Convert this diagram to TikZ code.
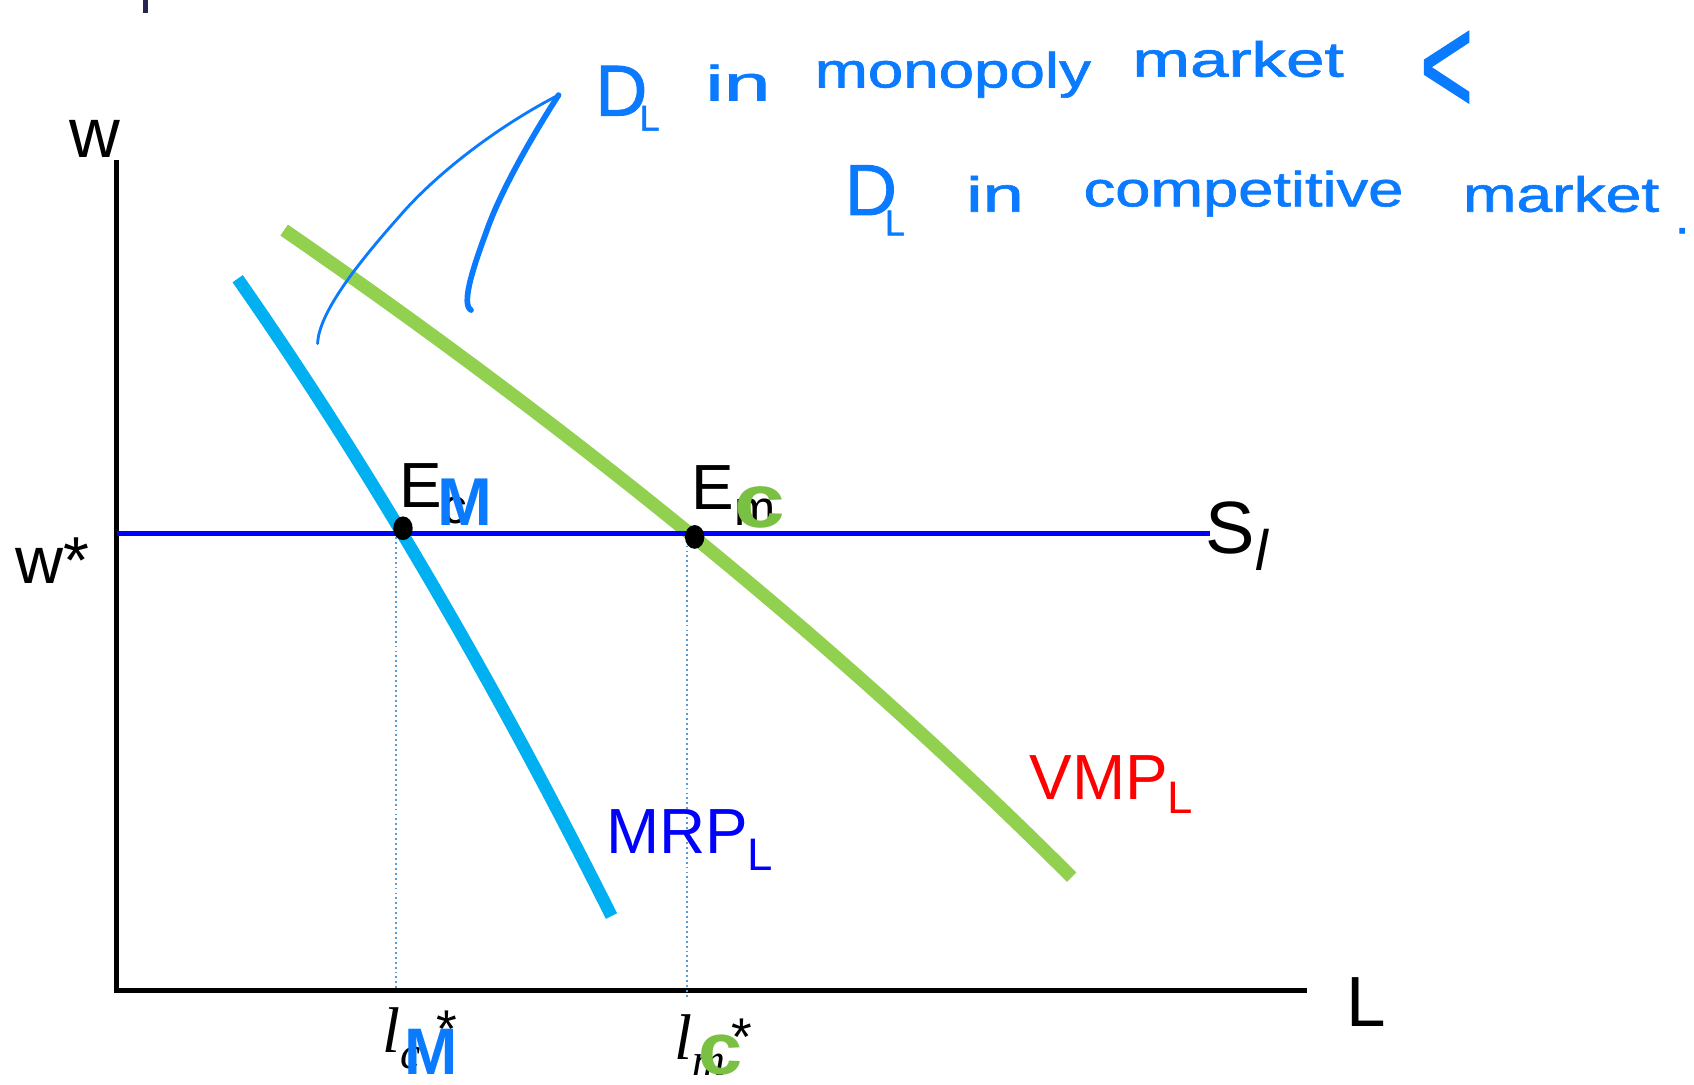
\documentclass[tikz,border=0pt]{standalone}
\usepackage{fontspec}
\setmainfont{Liberation Sans}
\newfontfamily\serifface{Liberation Serif}
\newfontfamily\hwfont{Liberation Sans}[FakeBold=1.2]
\usetikzlibrary{shapes.geometric}
\definecolor{mrpc}{HTML}{00B0F0}
\definecolor{vmpc}{HTML}{92D050}
\definecolor{hwblue}{HTML}{0A7AFF}
\definecolor{hwgreen}{HTML}{7AC143}
\definecolor{dotc}{HTML}{5B9BD5}
\definecolor{navyc}{HTML}{262651}
\newcommand\myfs[1]{\fontsize{#1}{#1}\selectfont}
\begin{document}
\begin{tikzpicture}[x=0.01cm,y=-0.01cm,
  every node/.style={inner sep=0pt,outer sep=0pt},
  axisline/.style={line width=1.3pt,black},
  mrpline/.style={line width=3.3pt,mrpc},
  vmpline/.style={line width=3.5pt,vmpc},
  supplyline/.style={line width=1.15pt,blue},
  guide/.style={line width=0.45pt,dotc,dash pattern=on 0.5pt off 0.8pt},
  eqdot/.style={ellipse,fill=black,minimum width=1.8mm,minimum height=2.2mm},
  axlab/.style={anchor=base west,font=\myfs{18.5}},
  curvelab/.style={anchor=base west,font=\myfs{16.8}},
  hw/.style={anchor=base,text=hwblue,font=\hwfont\myfs{13}},
  hwstroke/.style={draw=hwblue,line cap=round,line join=round},
  overM/.style={text=hwblue,font=\myfs{16.5}\bfseries},
  overc/.style={text=hwgreen,font=\myfs{20}\bfseries},
]
\useasboundingbox (0,0) rectangle (1568,1004);
\fill[navyc] (132,0) rectangle (137,12);

% axes
\coordinate (O) at (108,917);
\coordinate (Ytop) at (108,148);
\coordinate (Xend) at (1210,917);
\draw[axisline] (Ytop) -- (O) -- (Xend);

% curves
\coordinate (mA) at (220,258);
\coordinate (mB) at (566,848);
\draw[mrpline] (mA) .. controls (338.7,428) and (454.3,624.7) .. (mB);
\coordinate (vA) at (263,213);
\coordinate (vB) at (992,812);
\draw[vmpline] (vA) .. controls (542.3,405.7) and (785.3,605.3) .. (vB);

% supply
\coordinate (Wst) at (108,494);
\coordinate (Send) at (1120,494);
\draw[supplyline] (Wst) -- (Send);

% guides
\coordinate (g1t) at (366.5,497);
\coordinate (g1b) at (366.5,917);
\coordinate (g2t) at (636,505);
\coordinate (g2b) at (636,924);
\draw[guide] (g1t) -- (g1b);
\draw[guide] (g2t) -- (g2b);

% equilibrium dots
\node[eqdot] (Em) at (373,489) {};
\node[eqdot] (Ec) at (643,497) {};

% axis labels
\node[axlab] (wlab) at (64,146) {w};
\node[axlab,font=\myfs{17.5}] (wstar) at (14,540) {w*};
\node[axlab,font=\myfs{18.7}] (Llab) at (1246,950) {L};
\node[axlab,font=\myfs{19.5}] (Slab) at (1116,512) {S\raisebox{-0.23em}{\myfs{15}\itshape l}};

% curve labels
\node[curvelab,text=blue] (mrplab) at (561,790) {MRP\raisebox{-0.26em}{\myfs{12}L}};
\node[curvelab,text=red] (vmplab) at (953,740) {VMP\raisebox{-0.22em}{\myfs{12}L}};

% E labels
\node[curvelab] (E1) at (370,470) {E\raisebox{-0.24em}{\myfs{13}c}};
\node[curvelab] (E2) at (640,472) {E\raisebox{-0.24em}{\myfs{13}m}};

% l labels
\node[anchor=base west,font=\serifface\myfs{17}\itshape] (l1) at (354,974) {l\raisebox{-0.25em}{\myfs{12}c}};
\node[anchor=base west,font=\myfs{14}] (st1) at (404,970) {*};
\node[anchor=base west,font=\serifface\myfs{17}\itshape] (l2) at (624,981) {l\raisebox{-0.25em}{\myfs{12}m}};
\node[anchor=base west,font=\myfs{14}] (st2) at (677,977) {*};

% handwritten overlays
\node[overM] (M1) at (430,465) {\scalebox{1.05}[1.08]{M}};
\node[overc] (c1) at (703,470) {\scalebox{1.2}[1]{c}};
\node[overM] (M2) at (399,974) {\scalebox{1.02}[1.05]{M}};
\node[overc,font=\myfs{19}\bfseries] (c2) at (667,977) {\scalebox{1.1}[1.02]{c}};

% handwritten hooks
\coordinate (tip) at (517,88);
\coordinate (hk1) at (294,318);
\coordinate (hk2) at (436,287);
\draw[hwstroke,line width=0.75pt] (tip) .. controls (455,120) and (400,165) .. (370,200) .. controls (330,245) and (295,290) .. (hk1);
\draw[hwstroke,line width=1.5pt] (tip) .. controls (490,130) and (462,180) .. (450,215) .. controls (437,250) and (427,282) .. (hk2);

% handwritten text line 1
\node[hw,anchor=base west,font=\hwfont\myfs{19}] (D1) at (551,107) {D};
\node[hw,anchor=base west,font=\hwfont\myfs{9.5}] (L1) at (592,121) {L};
\node[hw] (in1) at (683,93) {\scalebox{1.7}[1]{in}};
\node[hw] (mono) at (882,81) {\scalebox{1.29}[1]{monopoly}};
\node[hw] (mkt1) at (1146,71) {\scalebox{1.4}[1]{market}};
\node[hw,font=\hwfont\myfs{37}] (lt) at (1339,105) {\scalebox{0.65}[1]{<}};

% handwritten text line 2
\node[hw,anchor=base west,font=\hwfont\myfs{19}] (D2) at (782,199) {D};
\node[hw,anchor=base west,font=\hwfont\myfs{9.5}] (L2) at (819,218) {L};
\node[hw] (in2) at (921,196) {\scalebox{1.5}[1]{in}};
\node[hw] (comp) at (1151,191) {\scalebox{1.28}[1]{competitive}};
\node[hw] (mkt2) at (1445,196) {\scalebox{1.3}[1]{market}};
\node[hw] (dot2) at (1557,216) {.};
\end{tikzpicture}
\end{document}
